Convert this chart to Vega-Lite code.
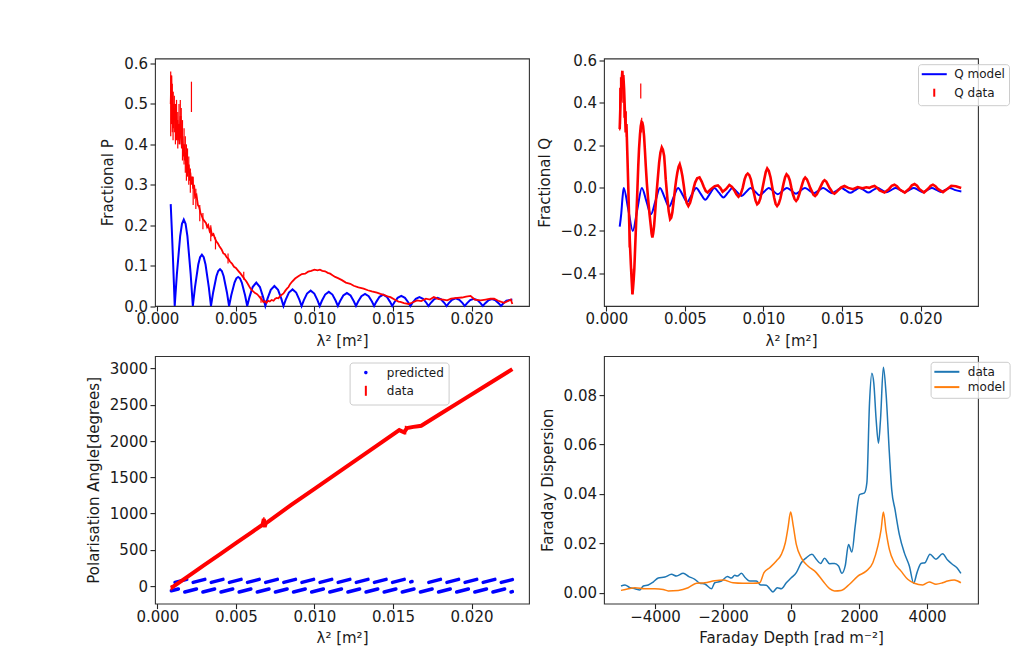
{
 "$schema": "https://vega.github.io/schema/vega-lite/v6.json",
 "background": "white",
 "padding": {"left": 85, "top": 52.5, "right": 5, "bottom": 5},
 "columns": 2,
 "spacing": {"row": 49.6, "column": 75},
 "bounds": "flush",
 "resolve": {"scale": {"color": "independent"}, "legend": {"color": "independent"}},
 "config": {
  "font": "DejaVu Sans",
  "view": {"stroke": "#333333", "strokeWidth": 1.1},
  "axis": {"grid": false, "domain": false, "tickColor": "#222222", "tickSize": 5, "tickWidth": 1.1, "labelFont": "DejaVu Sans", "labelFontSize": 15, "labelColor": "#1a1a1a", "titleFont": "DejaVu Sans", "titleFontSize": 15, "titleFontWeight": "normal", "titleColor": "#1a1a1a", "labelFlush": false, "labelOverlap": false},
  "axisX": {"labelPadding": 0.5, "titlePadding": 6.5},
  "axisY": {"labelPadding": 2.5, "titlePadding": 8},
  "legend": {"labelFont": "DejaVu Sans", "labelFontSize": 12, "labelColor": "#1a1a1a"}
 },
 "datasets": {
  "pmodel": [
   {"x":0.00085,"y":0.252},{"x":0.00092,"y":0.19},{"x":0.00099,"y":0.122},{"x":0.00105,"y":0.059},
   {"x":0.001105,"y":0},{"x":0.001243,"y":0.0788},{"x":0.001451,"y":0.1731},{"x":0.001567,"y":0.2035},{"x":0.001682,"y":0.214},{"x":0.001797,"y":0.2035},{"x":0.001913,"y":0.1731},{"x":0.002121,"y":0.0788},
   {"x":0.002259,"y":0},{"x":0.002397,"y":0.0467},{"x":0.002605,"y":0.1027},{"x":0.002721,"y":0.1208},{"x":0.002836,"y":0.127},{"x":0.002951,"y":0.1208},{"x":0.003067,"y":0.1027},{"x":0.003275,"y":0.0467},
   {"x":0.003413,"y":0},{"x":0.003551,"y":0.0335},{"x":0.003759,"y":0.0736},{"x":0.003875,"y":0.0865},{"x":0.00399,"y":0.091},{"x":0.004105,"y":0.0865},{"x":0.004221,"y":0.0736},{"x":0.004429,"y":0.0335},
   {"x":0.004567,"y":0},{"x":0.004705,"y":0.0265},{"x":0.004913,"y":0.0582},{"x":0.005029,"y":0.0685},{"x":0.005144,"y":0.072},{"x":0.005259,"y":0.0685},{"x":0.005375,"y":0.0582},{"x":0.005583,"y":0.0265},
   {"x":0.005721,"y":0},{"x":0.005859,"y":0.0213},{"x":0.006067,"y":0.0469},{"x":0.006298,"y":0.058},{"x":0.006529,"y":0.0469},{"x":0.006737,"y":0.0213},
   {"x":0.006875,"y":0},{"x":0.007013,"y":0.0182},{"x":0.007221,"y":0.04},{"x":0.007452,"y":0.0495},{"x":0.007683,"y":0.04},{"x":0.007891,"y":0.0182},
   {"x":0.008029,"y":0},{"x":0.008167,"y":0.0151},{"x":0.008375,"y":0.0332},{"x":0.008606,"y":0.041},{"x":0.008837,"y":0.0332},{"x":0.009045,"y":0.0151},
   {"x":0.009183,"y":0},{"x":0.009321,"y":0.014},{"x":0.009529,"y":0.0307},{"x":0.00976,"y":0.038},{"x":0.009991,"y":0.0307},{"x":0.010199,"y":0.014},
   {"x":0.010337,"y":0},{"x":0.010475,"y":0.0129},{"x":0.010683,"y":0.0283},{"x":0.010914,"y":0.035},{"x":0.011145,"y":0.0283},{"x":0.011353,"y":0.0129},
   {"x":0.011491,"y":0},{"x":0.011629,"y":0.0118},{"x":0.011837,"y":0.0259},{"x":0.012068,"y":0.032},{"x":0.012299,"y":0.0259},{"x":0.012507,"y":0.0118},
   {"x":0.012645,"y":0},{"x":0.012783,"y":0.011},{"x":0.012991,"y":0.0243},{"x":0.013222,"y":0.03},{"x":0.013453,"y":0.0243},{"x":0.013661,"y":0.011},
   {"x":0.013799,"y":0},{"x":0.013937,"y":0.0103},{"x":0.014145,"y":0.0227},{"x":0.014376,"y":0.028},{"x":0.014607,"y":0.0227},{"x":0.014815,"y":0.0103},
   {"x":0.014953,"y":0},{"x":0.015091,"y":0.0092},{"x":0.015299,"y":0.0202},{"x":0.01553,"y":0.025},{"x":0.015761,"y":0.0202},{"x":0.015969,"y":0.0092},
   {"x":0.016107,"y":0},{"x":0.016245,"y":0.0081},{"x":0.016453,"y":0.0178},{"x":0.016684,"y":0.022},{"x":0.016915,"y":0.0178},{"x":0.017123,"y":0.0081},
   {"x":0.017261,"y":0},{"x":0.017399,"y":0.0074},{"x":0.017607,"y":0.0162},{"x":0.017838,"y":0.02},{"x":0.018069,"y":0.0162},{"x":0.018277,"y":0.0074},
   {"x":0.018415,"y":0},{"x":0.018553,"y":0.007},{"x":0.018761,"y":0.0154},{"x":0.018992,"y":0.019},{"x":0.019223,"y":0.0154},{"x":0.019431,"y":0.007},
   {"x":0.019569,"y":0},{"x":0.019707,"y":0.0066},{"x":0.019915,"y":0.0146},{"x":0.020146,"y":0.018},{"x":0.020377,"y":0.0146},{"x":0.020585,"y":0.0066},
   {"x":0.020723,"y":0},{"x":0.020861,"y":0.0063},{"x":0.021069,"y":0.0138},{"x":0.0213,"y":0.017},{"x":0.021531,"y":0.0138},{"x":0.021739,"y":0.0063},
   {"x":0.021877,"y":0},{"x":0.022015,"y":0.006},{"x":0.022223,"y":0.013},{"x":0.0226,"y":0.016}
  ],
  "pdata": [
   {"x":0.00085,"y":0.50},{"x":0.00089,"y":0.57},{"x":0.00093,"y":0.47},{"x":0.00097,"y":0.53},{"x":0.001,"y":0.44},{"x":0.00104,"y":0.50},{"x":0.00108,"y":0.46},{"x":0.00112,"y":0.49},{"x":0.00116,"y":0.43},{"x":0.0012,"y":0.47},{"x":0.00124,"y":0.42},{"x":0.00128,"y":0.46},{"x":0.00132,"y":0.41},{"x":0.00136,"y":0.45},{"x":0.0014,"y":0.40},{"x":0.00144,"y":0.44},{"x":0.00148,"y":0.47},{"x":0.00152,"y":0.43},{"x":0.00156,"y":0.39},{"x":0.0016,"y":0.42},{"x":0.00165,"y":0.37},{"x":0.0017,"y":0.40},{"x":0.00175,"y":0.36},{"x":0.0018,"y":0.38},{"x":0.00185,"y":0.34},{"x":0.0019,"y":0.36},{"x":0.00196,"y":0.33},{"x":0.002,"y":0.35},{"x":0.00205,"y":0.31},{"x":0.0021,"y":0.33},{"x":0.00216,"y":0.30},{"x":0.00222,"y":0.32},{"x":0.00228,"y":0.29},{"x":0.00234,"y":0.30},{"x":0.0024,"y":0.27},{"x":0.00249,"y":0.275},{"x":0.00258,"y":0.25},{"x":0.00266,"y":0.245},{"x":0.00275,"y":0.23},{"x":0.00281,"y":0.225},{"x":0.0029,"y":0.215},{"x":0.003,"y":0.21},{"x":0.0031,"y":0.205},{"x":0.00317,"y":0.195},{"x":0.00324,"y":0.2},{"x":0.00333,"y":0.185},{"x":0.0034,"y":0.19},{"x":0.00348,"y":0.175},{"x":0.00357,"y":0.178},{"x":0.00366,"y":0.168},{"x":0.00375,"y":0.16},{"x":0.00385,"y":0.155},{"x":0.00395,"y":0.148},{"x":0.00409,"y":0.14},{"x":0.0042,"y":0.13},{"x":0.0043,"y":0.128},{"x":0.00442,"y":0.12},{"x":0.00452,"y":0.117},{"x":0.00462,"y":0.11},{"x":0.00475,"y":0.105},{"x":0.00488,"y":0.097},{"x":0.005,"y":0.094},{"x":0.00515,"y":0.087},{"x":0.0053,"y":0.08},{"x":0.00545,"y":0.072},{"x":0.00556,"y":0.066},{"x":0.00568,"y":0.06},{"x":0.0058,"y":0.052},{"x":0.0059,"y":0.045},{"x":0.006,"y":0.04},{"x":0.0061,"y":0.036},{"x":0.00622,"y":0.032},{"x":0.00633,"y":0.03},{"x":0.00643,"y":0.026},{"x":0.00655,"y":0.02},{"x":0.00665,"y":0.016},{"x":0.00675,"y":0.01},{"x":0.00685,"y":0.012},{"x":0.00695,"y":0.008},{"x":0.00705,"y":0.013},{"x":0.00716,"y":0.011},{"x":0.00728,"y":0.015},{"x":0.0074,"y":0.013},{"x":0.0075,"y":0.018},{"x":0.0076,"y":0.02},{"x":0.00771,"y":0.019},{"x":0.00782,"y":0.025},{"x":0.00792,"y":0.028},{"x":0.00803,"y":0.031},{"x":0.00815,"y":0.038},{"x":0.00825,"y":0.043},{"x":0.00835,"y":0.047},{"x":0.00845,"y":0.054},{"x":0.00857,"y":0.06},{"x":0.00877,"y":0.068},{"x":0.009,"y":0.074},{"x":0.0092,"y":0.079},{"x":0.00941,"y":0.08},{"x":0.0096,"y":0.085},{"x":0.0098,"y":0.087},{"x":0.01,"y":0.09},{"x":0.0102,"y":0.088},{"x":0.01035,"y":0.09},{"x":0.0105,"y":0.087},{"x":0.01068,"y":0.086},{"x":0.01085,"y":0.082},{"x":0.011,"y":0.08},{"x":0.01115,"y":0.076},{"x":0.01132,"y":0.072},{"x":0.0115,"y":0.069},{"x":0.01175,"y":0.064},{"x":0.012,"y":0.058},{"x":0.01228,"y":0.055},{"x":0.0125,"y":0.05},{"x":0.0128,"y":0.046},{"x":0.01313,"y":0.043},{"x":0.0134,"y":0.039},{"x":0.01365,"y":0.036},{"x":0.01398,"y":0.033},{"x":0.0142,"y":0.03},{"x":0.01445,"y":0.027},{"x":0.01465,"y":0.024},{"x":0.01484,"y":0.022},{"x":0.0151,"y":0.016},{"x":0.01535,"y":0.011},{"x":0.01547,"y":0.01},{"x":0.0157,"y":0.007},{"x":0.016,"y":0.005},{"x":0.0162,"y":0.008},{"x":0.01654,"y":0.014},{"x":0.0168,"y":0.012},{"x":0.0171,"y":0.018},{"x":0.01735,"y":0.016},{"x":0.0176,"y":0.022},{"x":0.0179,"y":0.017},{"x":0.0182,"y":0.016},{"x":0.01845,"y":0.014},{"x":0.0187,"y":0.018},{"x":0.01909,"y":0.02},{"x":0.0194,"y":0.021},{"x":0.01965,"y":0.023},{"x":0.01994,"y":0.025},{"x":0.0202,"y":0.016},{"x":0.02058,"y":0.014},{"x":0.0209,"y":0.016},{"x":0.0212,"y":0.018},{"x":0.02144,"y":0.018},{"x":0.0217,"y":0.013},{"x":0.0219,"y":0.01},{"x":0.02208,"y":0.008},{"x":0.0223,"y":0.012},{"x":0.0225,"y":0.016},{"x":0.0226,"y":0.005}
  ],
  "perr": [
   {"x":0.00085,"y":0.42,"y2":0.58},{"x":0.0009,"y":0.45,"y2":0.57},{"x":0.00095,"y":0.43,"y2":0.55},{"x":0.001,"y":0.41,"y2":0.53},{"x":0.00108,"y":0.43,"y2":0.52},{"x":0.00115,"y":0.40,"y2":0.5},{"x":0.00122,"y":0.41,"y2":0.51},{"x":0.0013,"y":0.39,"y2":0.48},{"x":0.00138,"y":0.41,"y2":0.5},{"x":0.00146,"y":0.42,"y2":0.51},{"x":0.00152,"y":0.40,"y2":0.49},{"x":0.0016,"y":0.36,"y2":0.46},{"x":0.0017,"y":0.35,"y2":0.44},{"x":0.00178,"y":0.33,"y2":0.42},{"x":0.00185,"y":0.31,"y2":0.40},{"x":0.00192,"y":0.32,"y2":0.39},{"x":0.002,"y":0.30,"y2":0.37},{"x":0.00217,"y":0.48,"y2":0.555},{"x":0.0021,"y":0.28,"y2":0.34},{"x":0.00228,"y":0.25,"y2":0.32},{"x":0.00245,"y":0.24,"y2":0.29},{"x":0.0027,"y":0.21,"y2":0.25},{"x":0.0029,"y":0.19,"y2":0.23},{"x":0.0034,"y":0.16,"y2":0.2},{"x":0.0037,"y":0.14,"y2":0.17},{"x":0.0045,"y":0.105,"y2":0.13},{"x":0.0055,"y":0.065,"y2":0.085},{"x":0.0066,"y":0.008,"y2":0.025}
  ],
  "qmodel": [
   {"s":"Q model","x":0.00085,"y":-0.182},{"s":"Q model","x":0.00095,"y":-0.12},{"s":"Q model","x":0.00103,"y":-0.045},
   {"s":"Q model","x":0.001105,"y":0},{"s":"Q model","x":0.001394,"y":-0.101},{"s":"Q model","x":0.001682,"y":-0.202},{"s":"Q model","x":0.001971,"y":-0.101},
   {"s":"Q model","x":0.002259,"y":0},{"s":"Q model","x":0.002548,"y":-0.062},{"s":"Q model","x":0.002836,"y":-0.124},{"s":"Q model","x":0.003125,"y":-0.062},
   {"s":"Q model","x":0.003413,"y":0},{"s":"Q model","x":0.003702,"y":-0.044},{"s":"Q model","x":0.00399,"y":-0.088},{"s":"Q model","x":0.004279,"y":-0.044},
   {"s":"Q model","x":0.004567,"y":0},{"s":"Q model","x":0.004856,"y":-0.033},{"s":"Q model","x":0.005144,"y":-0.066},{"s":"Q model","x":0.005433,"y":-0.033},
   {"s":"Q model","x":0.005721,"y":0},{"s":"Q model","x":0.00601,"y":-0.028},{"s":"Q model","x":0.006298,"y":-0.056},{"s":"Q model","x":0.006587,"y":-0.028},
   {"s":"Q model","x":0.006875,"y":0},{"s":"Q model","x":0.007164,"y":-0.0225},{"s":"Q model","x":0.007452,"y":-0.045},{"s":"Q model","x":0.007741,"y":-0.0225},
   {"s":"Q model","x":0.008029,"y":0},{"s":"Q model","x":0.008318,"y":-0.019},{"s":"Q model","x":0.008606,"y":-0.038},{"s":"Q model","x":0.008895,"y":-0.019},
   {"s":"Q model","x":0.009183,"y":0},{"s":"Q model","x":0.009472,"y":-0.0175},{"s":"Q model","x":0.00976,"y":-0.035},{"s":"Q model","x":0.010049,"y":-0.0175},
   {"s":"Q model","x":0.010337,"y":0},{"s":"Q model","x":0.010626,"y":-0.015},{"s":"Q model","x":0.010914,"y":-0.03},{"s":"Q model","x":0.011203,"y":-0.015},
   {"s":"Q model","x":0.011491,"y":0},{"s":"Q model","x":0.01178,"y":-0.0135},{"s":"Q model","x":0.012068,"y":-0.027},{"s":"Q model","x":0.012357,"y":-0.0135},
   {"s":"Q model","x":0.012645,"y":0},{"s":"Q model","x":0.012934,"y":-0.0125},{"s":"Q model","x":0.013222,"y":-0.025},{"s":"Q model","x":0.013511,"y":-0.0125},
   {"s":"Q model","x":0.013799,"y":0},{"s":"Q model","x":0.014088,"y":-0.0125},{"s":"Q model","x":0.014376,"y":-0.025},{"s":"Q model","x":0.014665,"y":-0.0125},
   {"s":"Q model","x":0.014953,"y":0},{"s":"Q model","x":0.015242,"y":-0.0115},{"s":"Q model","x":0.01553,"y":-0.023},{"s":"Q model","x":0.015819,"y":-0.0115},
   {"s":"Q model","x":0.016107,"y":0},{"s":"Q model","x":0.016396,"y":-0.011},{"s":"Q model","x":0.016684,"y":-0.022},{"s":"Q model","x":0.016973,"y":-0.011},
   {"s":"Q model","x":0.017261,"y":0},{"s":"Q model","x":0.01755,"y":-0.0105},{"s":"Q model","x":0.017838,"y":-0.021},{"s":"Q model","x":0.018127,"y":-0.0105},
   {"s":"Q model","x":0.018415,"y":0},{"s":"Q model","x":0.018704,"y":-0.01},{"s":"Q model","x":0.018992,"y":-0.02},{"s":"Q model","x":0.019281,"y":-0.01},
   {"s":"Q model","x":0.019569,"y":0},{"s":"Q model","x":0.019858,"y":-0.01},{"s":"Q model","x":0.020146,"y":-0.02},{"s":"Q model","x":0.020435,"y":-0.01},
   {"s":"Q model","x":0.020723,"y":0},{"s":"Q model","x":0.021012,"y":-0.0095},{"s":"Q model","x":0.0213,"y":-0.019},{"s":"Q model","x":0.021589,"y":-0.0095},
   {"s":"Q model","x":0.021877,"y":0},{"s":"Q model","x":0.022166,"y":-0.0095},{"s":"Q model","x":0.0226,"y":-0.017}
  ],
  "qdata": [
   {"s":"Q data","x":0.00085,"y":0.276},{"s":"Q data","x":0.0009,"y":0.40},{"s":"Q data","x":0.00095,"y":0.45},{"s":"Q data","x":0.00099,"y":0.52},{"s":"Q data","x":0.00102,"y":0.55},{"s":"Q data","x":0.00105,"y":0.49},{"s":"Q data","x":0.00108,"y":0.53},{"s":"Q data","x":0.00113,"y":0.464},{"s":"Q data","x":0.00118,"y":0.36},{"s":"Q data","x":0.00123,"y":0.26},{"s":"Q data","x":0.00128,"y":0.30},{"s":"Q data","x":0.00134,"y":0.15},{"s":"Q data","x":0.0014,"y":-0.006},{"s":"Q data","x":0.00145,"y":-0.15},{"s":"Q data","x":0.00149,"y":-0.241},{"s":"Q data","x":0.00156,"y":-0.36},{"s":"Q data","x":0.00162,"y":-0.445},{"s":"Q data","x":0.00166,"y":-0.5},{"s":"Q data","x":0.0017,"y":-0.47},{"s":"Q data","x":0.00174,"y":-0.43},{"s":"Q data","x":0.00178,"y":-0.382},{"s":"Q data","x":0.00187,"y":-0.21},{"s":"Q data","x":0.00193,"y":-0.1},{"s":"Q data","x":0.00198,"y":0},{"s":"Q data","x":0.00203,"y":0.1},{"s":"Q data","x":0.00208,"y":0.182},{"s":"Q data","x":0.00214,"y":0.25},{"s":"Q data","x":0.00219,"y":0.29},{"s":"Q data","x":0.00224,"y":0.31},{"s":"Q data","x":0.00229,"y":0.307},{"s":"Q data","x":0.00234,"y":0.29},{"s":"Q data","x":0.0024,"y":0.244},{"s":"Q data","x":0.00246,"y":0.17},{"s":"Q data","x":0.00251,"y":0.103},{"s":"Q data","x":0.00258,"y":0.02},{"s":"Q data","x":0.00266,"y":-0.053},{"s":"Q data","x":0.00275,"y":-0.125},{"s":"Q data","x":0.00283,"y":-0.179},{"s":"Q data","x":0.00288,"y":-0.215},{"s":"Q data","x":0.00293,"y":-0.233},{"s":"Q data","x":0.00298,"y":-0.215},{"s":"Q data","x":0.00304,"y":-0.179},{"s":"Q data","x":0.00311,"y":-0.11},{"s":"Q data","x":0.00318,"y":-0.038},{"s":"Q data","x":0.00327,"y":0.04},{"s":"Q data","x":0.00336,"y":0.119},{"s":"Q data","x":0.00344,"y":0.165},{"s":"Q data","x":0.00353,"y":0.19},{"s":"Q data","x":0.0036,"y":0.18},{"s":"Q data","x":0.00368,"y":0.15},{"s":"Q data","x":0.00373,"y":0.1},{"s":"Q data","x":0.00378,"y":0.041},{"s":"Q data","x":0.00389,"y":-0.053},{"s":"Q data","x":0.00397,"y":-0.11},{"s":"Q data","x":0.00406,"y":-0.147},{"s":"Q data","x":0.00413,"y":-0.14},{"s":"Q data","x":0.0042,"y":-0.116},{"s":"Q data","x":0.00429,"y":-0.06},{"s":"Q data","x":0.00438,"y":0},{"s":"Q data","x":0.00445,"y":0.04},{"s":"Q data","x":0.00452,"y":0.072},{"s":"Q data","x":0.0046,"y":0.1},{"s":"Q data","x":0.00467,"y":0.111},{"s":"Q data","x":0.00475,"y":0.09},{"s":"Q data","x":0.00484,"y":0.056},{"s":"Q data","x":0.00493,"y":0.01},{"s":"Q data","x":0.00501,"y":-0.038},{"s":"Q data","x":0.00511,"y":-0.07},{"s":"Q data","x":0.00522,"y":-0.085},{"s":"Q data","x":0.00533,"y":-0.07},{"s":"Q data","x":0.00544,"y":-0.04},{"s":"Q data","x":0.00554,"y":-0.005},{"s":"Q data","x":0.00565,"y":0.025},{"s":"Q data","x":0.00578,"y":0.045},{"s":"Q data","x":0.00593,"y":0.049},{"s":"Q data","x":0.00607,"y":0.03},{"s":"Q data","x":0.0062,"y":0.005},{"s":"Q data","x":0.00633,"y":-0.015},{"s":"Q data","x":0.00645,"y":-0.022},{"s":"Q data","x":0.0066,"y":-0.01},{"s":"Q data","x":0.00675,"y":0.0},{"s":"Q data","x":0.0069,"y":0.008},{"s":"Q data","x":0.0071,"y":0.012},{"s":"Q data","x":0.00725,"y":0.0},{"s":"Q data","x":0.0074,"y":-0.018},{"s":"Q data","x":0.00762,"y":-0.005},{"s":"Q data","x":0.00783,"y":0.014},{"s":"Q data","x":0.008,"y":0.005},{"s":"Q data","x":0.00815,"y":-0.012},{"s":"Q data","x":0.00828,"y":-0.03},{"s":"Q data","x":0.00841,"y":-0.042},{"s":"Q data","x":0.00855,"y":-0.03},{"s":"Q data","x":0.00868,"y":0.0},{"s":"Q data","x":0.0088,"y":0.04},{"s":"Q data","x":0.0089,"y":0.06},{"s":"Q data","x":0.009,"y":0.067},{"s":"Q data","x":0.0091,"y":0.06},{"s":"Q data","x":0.0092,"y":0.04},{"s":"Q data","x":0.0093,"y":0.005},{"s":"Q data","x":0.00941,"y":-0.03},{"s":"Q data","x":0.0095,"y":-0.06},{"s":"Q data","x":0.0096,"y":-0.077},{"s":"Q data","x":0.0097,"y":-0.07},{"s":"Q data","x":0.0098,"y":-0.05},{"s":"Q data","x":0.00993,"y":-0.005},{"s":"Q data","x":0.01005,"y":0.04},{"s":"Q data","x":0.01015,"y":0.075},{"s":"Q data","x":0.01024,"y":0.091},{"s":"Q data","x":0.01034,"y":0.08},{"s":"Q data","x":0.01045,"y":0.05},{"s":"Q data","x":0.01057,"y":0.0},{"s":"Q data","x":0.01068,"y":-0.045},{"s":"Q data","x":0.01078,"y":-0.075},{"s":"Q data","x":0.01087,"y":-0.085},{"s":"Q data","x":0.01097,"y":-0.075},{"s":"Q data","x":0.01108,"y":-0.05},{"s":"Q data","x":0.01118,"y":-0.015},{"s":"Q data","x":0.01128,"y":0.02},{"s":"Q data","x":0.01138,"y":0.05},{"s":"Q data","x":0.01147,"y":0.064},{"s":"Q data","x":0.01158,"y":0.055},{"s":"Q data","x":0.01168,"y":0.035},{"s":"Q data","x":0.01178,"y":0.0},{"s":"Q data","x":0.01188,"y":-0.03},{"s":"Q data","x":0.01198,"y":-0.052},{"s":"Q data","x":0.01208,"y":-0.061},{"s":"Q data","x":0.01218,"y":-0.052},{"s":"Q data","x":0.01228,"y":-0.03},{"s":"Q data","x":0.01238,"y":-0.005},{"s":"Q data","x":0.01248,"y":0.02},{"s":"Q data","x":0.01257,"y":0.04},{"s":"Q data","x":0.01266,"y":0.049},{"s":"Q data","x":0.01277,"y":0.04},{"s":"Q data","x":0.01288,"y":0.02},{"s":"Q data","x":0.01298,"y":0.0},{"s":"Q data","x":0.01308,"y":-0.015},{"s":"Q data","x":0.01318,"y":-0.032},{"s":"Q data","x":0.01329,"y":-0.038},{"s":"Q data","x":0.0134,"y":-0.03},{"s":"Q data","x":0.0135,"y":-0.015},{"s":"Q data","x":0.0136,"y":0.0},{"s":"Q data","x":0.0137,"y":0.015},{"s":"Q data","x":0.0138,"y":0.03},{"s":"Q data","x":0.01389,"y":0.036},{"s":"Q data","x":0.014,"y":0.03},{"s":"Q data","x":0.0141,"y":0.015},{"s":"Q data","x":0.0142,"y":0.0},{"s":"Q data","x":0.0143,"y":-0.01},{"s":"Q data","x":0.0144,"y":-0.022},{"s":"Q data","x":0.01452,"y":-0.027},{"s":"Q data","x":0.01464,"y":-0.02},{"s":"Q data","x":0.01475,"y":-0.012},{"s":"Q data","x":0.01495,"y":0.002},{"s":"Q data","x":0.01516,"y":0.009},{"s":"Q data","x":0.0154,"y":0.0},{"s":"Q data","x":0.0157,"y":-0.006},{"s":"Q data","x":0.016,"y":0.004},{"s":"Q data","x":0.0163,"y":-0.002},{"s":"Q data","x":0.01655,"y":0.003},{"s":"Q data","x":0.01675,"y":0.0},{"s":"Q data","x":0.0169,"y":0.006},{"s":"Q data","x":0.01707,"y":0.009},{"s":"Q data","x":0.01725,"y":0.0},{"s":"Q data","x":0.0174,"y":-0.012},{"s":"Q data","x":0.01771,"y":-0.022},{"s":"Q data","x":0.018,"y":-0.005},{"s":"Q data","x":0.01817,"y":0.01},{"s":"Q data","x":0.01834,"y":0.015},{"s":"Q data","x":0.0185,"y":0.008},{"s":"Q data","x":0.01868,"y":-0.008},{"s":"Q data","x":0.019,"y":-0.022},{"s":"Q data","x":0.0193,"y":-0.003},{"s":"Q data","x":0.01945,"y":0.012},{"s":"Q data","x":0.01962,"y":0.018},{"s":"Q data","x":0.01978,"y":0.01},{"s":"Q data","x":0.01992,"y":-0.005},{"s":"Q data","x":0.02022,"y":-0.022},{"s":"Q data","x":0.0205,"y":-0.003},{"s":"Q data","x":0.02065,"y":0.01},{"s":"Q data","x":0.02079,"y":0.015},{"s":"Q data","x":0.02095,"y":0.008},{"s":"Q data","x":0.0211,"y":-0.005},{"s":"Q data","x":0.02143,"y":-0.02},{"s":"Q data","x":0.0217,"y":-0.005},{"s":"Q data","x":0.02196,"y":0.01},{"s":"Q data","x":0.02225,"y":0.008},{"s":"Q data","x":0.02259,"y":0.0}
  ],
  "qerr": [
   {"s":"Q data","x":0.00085,"y":0.27,"y2":0.47},{"s":"Q data","x":0.0009,"y":0.3,"y2":0.52},{"s":"Q data","x":0.00097,"y":0.42,"y2":0.55},{"s":"Q data","x":0.00105,"y":0.4,"y2":0.53},{"s":"Q data","x":0.00112,"y":0.33,"y2":0.49},{"s":"Q data","x":0.00127,"y":0.24,"y2":0.36},{"s":"Q data","x":0.00145,"y":-0.28,"y2":-0.1},{"s":"Q data","x":0.00162,"y":-0.5,"y2":-0.38},{"s":"Q data","x":0.00168,"y":-0.5,"y2":-0.42},{"s":"Q data","x":0.00219,"y":0.42,"y2":0.49},{"s":"Q data","x":0.00225,"y":0.26,"y2":0.33}
  ],
  "apred": [
   {"s":"predicted","g":"u-1","x":0.001124,"y":51},{"s":"predicted","g":"u-1","x":0.001869,"y":92},
   {"s":"predicted","g":"u0","x":0.002278,"y":51},{"s":"predicted","g":"u0","x":0.003023,"y":92},
   {"s":"predicted","g":"u1","x":0.003432,"y":51},{"s":"predicted","g":"u1","x":0.004177,"y":92},
   {"s":"predicted","g":"u2","x":0.004586,"y":51},{"s":"predicted","g":"u2","x":0.005331,"y":92},
   {"s":"predicted","g":"u3","x":0.00574,"y":51},{"s":"predicted","g":"u3","x":0.006485,"y":92},
   {"s":"predicted","g":"u4","x":0.006894,"y":51},{"s":"predicted","g":"u4","x":0.007639,"y":92},
   {"s":"predicted","g":"u5","x":0.008048,"y":51},{"s":"predicted","g":"u5","x":0.008793,"y":92},
   {"s":"predicted","g":"u6","x":0.009202,"y":51},{"s":"predicted","g":"u6","x":0.009947,"y":92},
   {"s":"predicted","g":"u7","x":0.010356,"y":51},{"s":"predicted","g":"u7","x":0.011101,"y":92},
   {"s":"predicted","g":"u8","x":0.01151,"y":51},{"s":"predicted","g":"u8","x":0.012255,"y":92},
   {"s":"predicted","g":"u9","x":0.012664,"y":51},{"s":"predicted","g":"u9","x":0.013409,"y":92},
   {"s":"predicted","g":"u10","x":0.013818,"y":51},{"s":"predicted","g":"u10","x":0.014563,"y":92},
   {"s":"predicted","g":"u11","x":0.014972,"y":51},{"s":"predicted","g":"u11","x":0.015717,"y":92},
   {"s":"predicted","g":"u12","x":0.016126,"y":58},{"s":"predicted","g":"u12","x":0.016216,"y":63},
   {"s":"predicted","g":"u13","x":0.01728,"y":51},{"s":"predicted","g":"u13","x":0.018025,"y":92},
   {"s":"predicted","g":"u14","x":0.018434,"y":51},{"s":"predicted","g":"u14","x":0.019179,"y":92},
   {"s":"predicted","g":"u15","x":0.019588,"y":51},{"s":"predicted","g":"u15","x":0.020333,"y":92},
   {"s":"predicted","g":"u16","x":0.020742,"y":51},{"s":"predicted","g":"u16","x":0.021487,"y":92},
   {"s":"predicted","g":"u17","x":0.021896,"y":51},{"s":"predicted","g":"u17","x":0.0226,"y":89},
   {"s":"predicted","g":"l-1","x":0.00089,"y":-65},{"s":"predicted","g":"l-1","x":0.001336,"y":-41},
   {"s":"predicted","g":"l0","x":0.001745,"y":-82},{"s":"predicted","g":"l0","x":0.00249,"y":-41},
   {"s":"predicted","g":"l1","x":0.002899,"y":-82},{"s":"predicted","g":"l1","x":0.003644,"y":-41},
   {"s":"predicted","g":"l2","x":0.004053,"y":-82},{"s":"predicted","g":"l2","x":0.004798,"y":-41},
   {"s":"predicted","g":"l3","x":0.005207,"y":-82},{"s":"predicted","g":"l3","x":0.005952,"y":-41},
   {"s":"predicted","g":"l4","x":0.006361,"y":-82},{"s":"predicted","g":"l4","x":0.007106,"y":-41},
   {"s":"predicted","g":"l5","x":0.007515,"y":-82},{"s":"predicted","g":"l5","x":0.00826,"y":-41},
   {"s":"predicted","g":"l6","x":0.008669,"y":-82},{"s":"predicted","g":"l6","x":0.009414,"y":-41},
   {"s":"predicted","g":"l7","x":0.009823,"y":-82},{"s":"predicted","g":"l7","x":0.010568,"y":-41},
   {"s":"predicted","g":"l8","x":0.010977,"y":-82},{"s":"predicted","g":"l8","x":0.011722,"y":-41},
   {"s":"predicted","g":"l9","x":0.012131,"y":-82},{"s":"predicted","g":"l9","x":0.012876,"y":-41},
   {"s":"predicted","g":"l10","x":0.013285,"y":-82},{"s":"predicted","g":"l10","x":0.01403,"y":-41},
   {"s":"predicted","g":"l11","x":0.014439,"y":-82},{"s":"predicted","g":"l11","x":0.015184,"y":-41},
   {"s":"predicted","g":"l12","x":0.015593,"y":-82},{"s":"predicted","g":"l12","x":0.016338,"y":-41},
   {"s":"predicted","g":"l13","x":0.016747,"y":-82},{"s":"predicted","g":"l13","x":0.017492,"y":-41},
   {"s":"predicted","g":"l14","x":0.017901,"y":-82},{"s":"predicted","g":"l14","x":0.018646,"y":-41},
   {"s":"predicted","g":"l15","x":0.019055,"y":-82},{"s":"predicted","g":"l15","x":0.0198,"y":-41},
   {"s":"predicted","g":"l16","x":0.020209,"y":-82},{"s":"predicted","g":"l16","x":0.020954,"y":-41},
   {"s":"predicted","g":"l17","x":0.021363,"y":-82},{"s":"predicted","g":"l17","x":0.022108,"y":-41},
   {"s":"predicted","g":"l18","x":0.022517,"y":-82},{"s":"predicted","g":"l18","x":0.0226,"y":-77}
  ],
  "adata": [
   {"s":"data","x":0.00089,"y":-25},{"s":"data","x":0.002,"y":141},{"s":"data","x":0.003,"y":291},{"s":"data","x":0.004,"y":441},{"s":"data","x":0.005,"y":591},{"s":"data","x":0.006,"y":741},{"s":"data","x":0.0067,"y":846},{"s":"data","x":0.00678,"y":925},{"s":"data","x":0.00683,"y":815},{"s":"data","x":0.0069,"y":864},{"s":"data","x":0.0085,"y":1116},{"s":"data","x":0.01005,"y":1348},{"s":"data","x":0.012,"y":1640},{"s":"data","x":0.014,"y":1940},{"s":"data","x":0.0154,"y":2150},{"s":"data","x":0.0157,"y":2120},{"s":"data","x":0.0159,"y":2180},{"s":"data","x":0.0163,"y":2195},{"s":"data","x":0.0166,"y":2205},{"s":"data","x":0.0168,"y":2210},{"s":"data","x":0.018,"y":2372},{"s":"data","x":0.0195,"y":2574},{"s":"data","x":0.021,"y":2776},{"s":"data","x":0.0226,"y":2992}
  ],
  "aerr": [
   {"s":"data","x":0.00678,"y":810,"y2":950},{"s":"data","x":0.0158,"y":2090,"y2":2210},{"s":"data","x":0.00089,"y":-60,"y2":10}
  ],
  "fd": [
   {"s":"data","x":-5000,"y":0.0027},{"s":"data","x":-4883,"y":0.0031},{"s":"data","x":-4736,"y":0.002},{"s":"data","x":-4590,"y":0.0016},{"s":"data","x":-4443,"y":0.0011},{"s":"data","x":-4345,"y":0.0027},{"s":"data","x":-4198,"y":0.0031},{"s":"data","x":-4052,"y":0.0043},{"s":"data","x":-3905,"y":0.0059},{"s":"data","x":-3709,"y":0.0063},{"s":"data","x":-3514,"y":0.0074},{"s":"data","x":-3367,"y":0.0067},{"s":"data","x":-3171,"y":0.0078},{"s":"data","x":-3005,"y":0.0065},{"s":"data","x":-2829,"y":0.0054},{"s":"data","x":-2682,"y":0.0038},{"s":"data","x":-2535,"y":0.0035},{"s":"data","x":-2340,"y":0.0016},{"s":"data","x":-2242,"y":0.004},{"s":"data","x":-2046,"y":0.0047},{"s":"data","x":-1870,"y":0.0065},{"s":"data","x":-1753,"y":0.0059},{"s":"data","x":-1655,"y":0.007},{"s":"data","x":-1577,"y":0.0067},{"s":"data","x":-1459,"y":0.0078},{"s":"data","x":-1342,"y":0.006},{"s":"data","x":-1215,"y":0.0047},{"s":"data","x":-1019,"y":0.0047},{"s":"data","x":-892,"y":0.0031},{"s":"data","x":-726,"y":0.003},{"s":"data","x":-627,"y":0.0016},{"s":"data","x":-529,"y":0.0003},{"s":"data","x":-402,"y":0.002},{"s":"data","x":-284,"y":0.0016},{"s":"data","x":-138,"y":0.004},{"s":"data","x":9,"y":0.006},{"s":"data","x":156,"y":0.0081},{"s":"data","x":302,"y":0.0121},{"s":"data","x":449,"y":0.0141},{"s":"data","x":616,"y":0.0155},{"s":"data","x":743,"y":0.0135},{"s":"data","x":870,"y":0.0118},{"s":"data","x":987,"y":0.0139},{"s":"data","x":1134,"y":0.0117},{"s":"data","x":1281,"y":0.0118},{"s":"data","x":1398,"y":0.0108},{"s":"data","x":1496,"y":0.0078},{"s":"data","x":1594,"y":0.0108},{"s":"data","x":1692,"y":0.0195},{"s":"data","x":1790,"y":0.0164},{"s":"data","x":1888,"y":0.0269},{"s":"data","x":2015,"y":0.0397},{"s":"data","x":2162,"y":0.0404},{"s":"data","x":2231,"y":0.0444},{"s":"data","x":2309,"y":0.0767},{"s":"data","x":2378,"y":0.0888},{"s":"data","x":2436,"y":0.0847},{"s":"data","x":2505,"y":0.0699},{"s":"data","x":2573,"y":0.0605},{"s":"data","x":2632,"y":0.0699},{"s":"data","x":2717,"y":0.0912},{"s":"data","x":2795,"y":0.0807},{"s":"data","x":2893,"y":0.0565},{"s":"data","x":2962,"y":0.0417},{"s":"data","x":3060,"y":0.0336},{"s":"data","x":3187,"y":0.0235},{"s":"data","x":3334,"y":0.0161},{"s":"data","x":3481,"y":0.0108},{"s":"data","x":3608,"y":0.0038},{"s":"data","x":3706,"y":0.0081},{"s":"data","x":3823,"y":0.0118},{"s":"data","x":3941,"y":0.0121},{"s":"data","x":4087,"y":0.0155},{"s":"data","x":4264,"y":0.0135},{"s":"data","x":4459,"y":0.0157},{"s":"data","x":4606,"y":0.0132},{"s":"data","x":4753,"y":0.0114},{"s":"data","x":4880,"y":0.0101},{"s":"data","x":4997,"y":0.0078},
   {"s":"model","x":-5000,"y":0.0009},{"s":"model","x":-4785,"y":0.0016},{"s":"model","x":-4590,"y":0.002},{"s":"model","x":-4296,"y":0.0016},{"s":"model","x":-4003,"y":0.0016},{"s":"model","x":-3758,"y":0.0013},{"s":"model","x":-3611,"y":0.0007},{"s":"model","x":-3318,"y":0.0009},{"s":"model","x":-3025,"y":0.002},{"s":"model","x":-2780,"y":0.0038},{"s":"model","x":-2535,"y":0.004},{"s":"model","x":-2242,"y":0.0048},{"s":"model","x":-1997,"y":0.0051},{"s":"model","x":-1704,"y":0.004},{"s":"model","x":-1411,"y":0.0038},{"s":"model","x":-1117,"y":0.0038},{"s":"model","x":-921,"y":0.004},{"s":"model","x":-794,"y":0.0081},{"s":"model","x":-627,"y":0.0101},{"s":"model","x":-431,"y":0.0128},{"s":"model","x":-284,"y":0.0155},{"s":"model","x":-167,"y":0.0202},{"s":"model","x":-89,"y":0.0262},{"s":"model","x":-11,"y":0.0326},{"s":"model","x":68,"y":0.0269},{"s":"model","x":156,"y":0.0195},{"s":"model","x":302,"y":0.0141},{"s":"model","x":498,"y":0.0108},{"s":"model","x":743,"y":0.0081},{"s":"model","x":939,"y":0.0047},{"s":"model","x":1134,"y":0.0016},{"s":"model","x":1281,"y":0.0007},{"s":"model","x":1477,"y":0.0009},{"s":"model","x":1721,"y":0.0034},{"s":"model","x":1966,"y":0.0067},{"s":"model","x":2211,"y":0.0087},{"s":"model","x":2407,"y":0.0121},{"s":"model","x":2554,"y":0.0188},{"s":"model","x":2651,"y":0.0256},{"s":"model","x":2717,"y":0.0326},{"s":"model","x":2795,"y":0.0249},{"s":"model","x":2893,"y":0.0175},{"s":"model","x":3040,"y":0.0121},{"s":"model","x":3236,"y":0.0087},{"s":"model","x":3432,"y":0.0054},{"s":"model","x":3627,"y":0.0038},{"s":"model","x":3872,"y":0.0031},{"s":"model","x":4068,"y":0.0043},{"s":"model","x":4264,"y":0.0034},{"s":"model","x":4459,"y":0.004},{"s":"model","x":4606,"y":0.0047},{"s":"model","x":4802,"y":0.0051},{"s":"model","x":4997,"y":0.004}
  ]
 },
 "concat": [
  {
   "width": 374, "height": 247.5,
   "layer": [
    {"data": {"name": "pmodel"}, "mark": {"type": "line", "color": "#0000ff", "strokeWidth": 2},
     "encoding": {
      "x": {"field": "x", "type": "quantitative", "scale": {"domain": [-0.00015, 0.02366], "nice": false, "zero": false}, "axis": {"values": [0, 0.005, 0.01, 0.015, 0.02], "format": ".3f"}, "title": "λ² [m²]"},
      "y": {"field": "y", "type": "quantitative", "scale": {"domain": [0, 0.6124], "nice": false, "zero": false}, "axis": {"values": [0, 0.1, 0.2, 0.3, 0.4, 0.5, 0.6], "format": ".1f"}, "title": "Fractional P"}}},
    {"data": {"name": "pdata"}, "mark": {"type": "line", "color": "#ff0000", "strokeWidth": 1.8},
     "encoding": {"x": {"field": "x", "type": "quantitative"}, "y": {"field": "y", "type": "quantitative"}}},
    {"data": {"name": "perr"}, "mark": {"type": "rule", "color": "#ff0000", "strokeWidth": 1.2},
     "encoding": {"x": {"field": "x", "type": "quantitative"}, "y": {"field": "y", "type": "quantitative"}, "y2": {"field": "y2"}}}
   ]
  },
  {
   "width": 374, "height": 247.5,
   "layer": [
    {"data": {"name": "qmodel"}, "mark": {"type": "line", "strokeWidth": 2, "interpolate": "monotone"},
     "encoding": {
      "x": {"field": "x", "type": "quantitative", "scale": {"domain": [-0.00015, 0.02366], "nice": false, "zero": false}, "axis": {"values": [0, 0.005, 0.01, 0.015, 0.02], "format": ".3f"}, "title": "λ² [m²]"},
      "y": {"field": "y", "type": "quantitative", "scale": {"domain": [-0.555, 0.608], "nice": false, "zero": false}, "axis": {"values": [-0.4, -0.2, 0, 0.2, 0.4, 0.6], "format": ".1f"}, "title": "Fractional  Q"},
      "color": {"field": "s", "type": "nominal", "scale": {"domain": ["Q model", "Q data"], "range": ["#0000ff", "#ff0000"]},
       "legend": {"title": null, "orient": "none", "legendX": 314, "legendY": 5.7, "symbolType": "M-2.5,0L2.5,0", "symbolSize": 100, "symbolStrokeWidth": 2, "symbolOffset": 6.25, "labelOffset": 14, "rowPadding": 4.5, "padding": 4, "fillColor": "rgba(255,255,255,0.8)", "strokeColor": "#cccccc", "cornerRadius": 3, "labelFontSize": 12,
        "encode": {"symbols": {"update": {"shape": {"signal": "datum.value === 'Q data' ? 'M0,-0.8L0,0.8' : 'M-2.5,0L2.5,0'"}}}}}}}},
    {"data": {"name": "qdata"}, "mark": {"type": "line", "strokeWidth": 2.6},
     "encoding": {"x": {"field": "x", "type": "quantitative"}, "y": {"field": "y", "type": "quantitative"}, "color": {"field": "s", "type": "nominal"}}},
    {"data": {"name": "qerr"}, "mark": {"type": "rule", "strokeWidth": 1.2},
     "encoding": {"x": {"field": "x", "type": "quantitative"}, "y": {"field": "y", "type": "quantitative"}, "y2": {"field": "y2"}, "color": {"field": "s", "type": "nominal"}}}
   ]
  },
  {
   "width": 374, "height": 247.5,
   "layer": [
    {"data": {"name": "apred"}, "mark": {"type": "line", "strokeWidth": 3.5, "strokeCap": "round"},
     "encoding": {
      "x": {"field": "x", "type": "quantitative", "scale": {"domain": [-0.00015, 0.02366], "nice": false, "zero": false}, "axis": {"values": [0, 0.005, 0.01, 0.015, 0.02], "format": ".3f"}, "title": "λ² [m²]"},
      "y": {"field": "y", "type": "quantitative", "scale": {"domain": [-242, 3171], "nice": false, "zero": false}, "axis": {"values": [0, 500, 1000, 1500, 2000, 2500, 3000], "format": "d"}, "title": "Polarisation Angle[degrees]"},
      "detail": {"field": "g", "type": "nominal"},
      "color": {"field": "s", "type": "nominal", "scale": {"domain": ["predicted", "data"], "range": ["#0000ff", "#ff0000"]},
       "legend": {"title": null, "orient": "none", "legendX": 194.6, "legendY": 6.4, "symbolType": "M-2.5,0L2.5,0", "symbolSize": 100, "symbolStrokeWidth": 2, "symbolOffset": 6.25, "labelOffset": 15, "rowPadding": 3.3, "padding": 4, "fillColor": "rgba(255,255,255,0.8)", "strokeColor": "#cccccc", "cornerRadius": 3, "labelFontSize": 12,
        "encode": {"symbols": {"update": {"shape": {"signal": "datum.value === 'data' ? 'M0,-1L0,1' : 'M-0.15,0A0.15,0.15,0,1,1,0.15,0A0.15,0.15,0,1,1,-0.15,0Z'"}, "fill": {"signal": "datum.value === 'predicted' ? '#0000ff' : 'transparent'"}}}}}}}},
    {"data": {"name": "adata"}, "mark": {"type": "line", "strokeWidth": 4},
     "encoding": {"x": {"field": "x", "type": "quantitative"}, "y": {"field": "y", "type": "quantitative"}, "color": {"field": "s", "type": "nominal"}}},
    {"data": {"name": "aerr"}, "mark": {"type": "rule", "strokeWidth": 1.5},
     "encoding": {"x": {"field": "x", "type": "quantitative"}, "y": {"field": "y", "type": "quantitative"}, "y2": {"field": "y2"}, "color": {"field": "s", "type": "nominal"}}}
   ]
  },
  {
   "width": 374, "height": 247.5,
   "data": {"name": "fd"},
   "mark": {"type": "line", "strokeWidth": 1.5, "interpolate": "monotone"},
   "encoding": {
    "x": {"field": "x", "type": "quantitative", "scale": {"domain": [-5500, 5500], "nice": false, "zero": false}, "axis": {"values": [-4000, -2000, 0, 2000, 4000], "format": "d"}, "title": "Faraday Depth [rad m⁻²]"},
    "y": {"field": "y", "type": "quantitative", "scale": {"domain": [-0.00444, 0.09576], "nice": false, "zero": false}, "axis": {"values": [0, 0.02, 0.04, 0.06, 0.08], "format": ".2f"}, "title": "Faraday Dispersion"},
    "color": {"field": "s", "type": "nominal", "scale": {"domain": ["data", "model"], "range": ["#1f77b4", "#ff7f0e"]},
     "legend": {"title": null, "orient": "none", "legendX": 326.6, "legendY": 5.7, "symbolType": "M-2.5,0L2.5,0", "symbolSize": 100, "symbolStrokeWidth": 2, "symbolOffset": 6.25, "labelOffset": 15, "rowPadding": 3.3, "padding": 4, "fillColor": "rgba(255,255,255,0.8)", "strokeColor": "#cccccc", "cornerRadius": 3, "labelFontSize": 12}}
   }
  }
 ]
}
